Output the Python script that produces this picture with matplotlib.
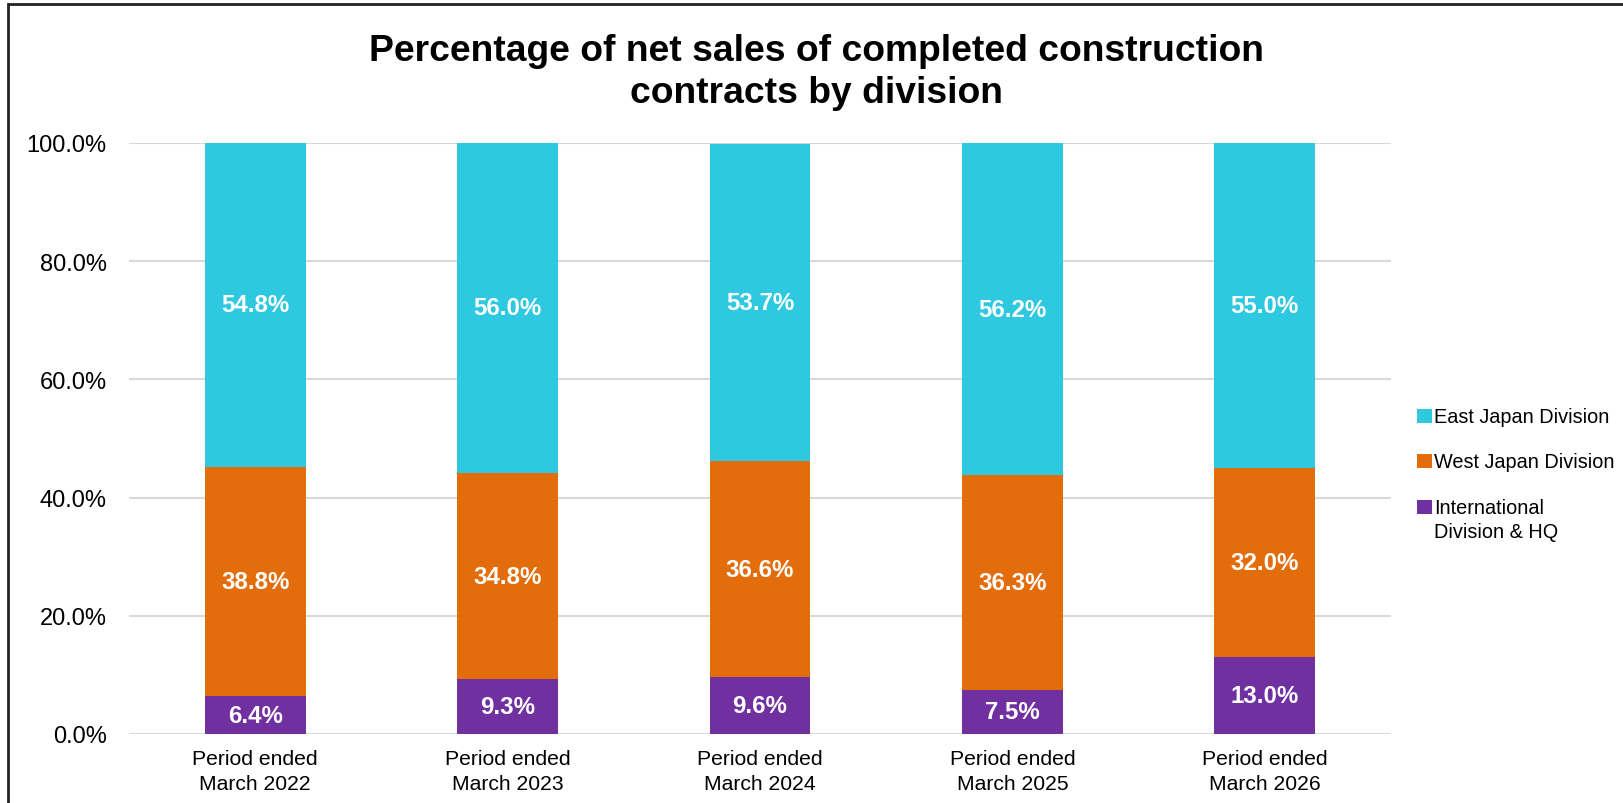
import numpy as np
from matplotlib import pyplot as plt
from matplotlib.patches import Rectangle

plt.rcParams['font.family'] = ['Liberation Sans', 'DejaVu Sans']

periods = ["Period ended\nMarch 2022", "Period ended\nMarch 2023", "Period ended\nMarch 2024",
           "Period ended\nMarch 2025", "Period ended\nMarch 2026"]
intl = [6.4, 9.3, 9.6, 7.5, 13.0]
west = [38.8, 34.8, 36.6, 36.3, 32.0]
east = [54.8, 56.0, 53.7, 56.2, 55.0]
names = ["East Japan Division", "West Japan Division", "International\nDivision & HQ"]
yticks = [0, 20, 40, 60, 80, 100]

c_east = "#2EC8E1"
c_west = "#E36C0B"
c_intl = "#7030A0"

W, H = 1623, 804
fig = plt.figure(figsize=(W / 100, H / 100), dpi=100)
ax = fig.add_axes([129 / W, 1 - 735 / H, (1391 - 129) / W, (735 - 144) / H])

x = np.arange(len(periods))
bw = 0.4
intl_a = np.array(intl)
west_a = np.array(west)
east_a = np.array(east)

ax.bar(x, intl_a, bw, color=c_intl, zorder=3)
ax.bar(x, west_a, bw, bottom=intl_a, color=c_west, zorder=3)
ax.bar(x, east_a, bw, bottom=intl_a + west_a, color=c_east, zorder=3)

# labels in the middle of each segment
for i in range(len(x)):
    for val, base in [(intl_a[i], 0), (west_a[i], intl_a[i]), (east_a[i], intl_a[i] + west_a[i])]:
        ax.text(x[i], base + val / 2, "%.1f%%" % val, ha='center', va='center',
                color='white', fontsize=17.3, fontweight='bold', zorder=4)

ax.set_xlim(-0.5, len(x) - 0.5)
ax.set_ylim(0, 100)
ax.set_yticks(yticks)
ax.set_yticklabels(["%.1f%%" % v for v in yticks], fontsize=17)
ax.set_xticks(x)
ax.set_xticklabels(periods, fontsize=15.2, linespacing=1.39)
ax.tick_params(axis='y', length=0, pad=16)
ax.tick_params(axis='x', length=0, pad=11)
ax.grid(axis='y', color='#D9D9D9', linewidth=1.5, zorder=0)
for s in ax.spines.values():
    s.set_visible(False)

fig.text(816.5 / W, 1 - 72.5 / H, "Percentage of net sales of completed construction\ncontracts by division",
         ha='center', va='center', fontsize=26.8, fontweight='bold', linespacing=1.25)

# legend
leg_y = [417, 462, 508]
for name, col, yc in zip(names, [c_east, c_west, c_intl], leg_y):
    fig.patches.append(Rectangle((1417 / W, 1 - (yc + 7) / H), 15 / W, 14 / H,
                                 transform=fig.transFigure, facecolor=col, edgecolor='none'))
    fig.text(1434 / W, 1 - (yc - 9) / H, name, ha='left', va='top', fontsize=14.3, linespacing=1.32)

# frame around the chart
fig.patches.append(Rectangle((8 / W, -0.05), 1.1, 1 - 5 / H + 0.05, transform=fig.transFigure,
                             fill=False, edgecolor='#222222', linewidth=2))

fig.savefig("out.png", dpi=100)
